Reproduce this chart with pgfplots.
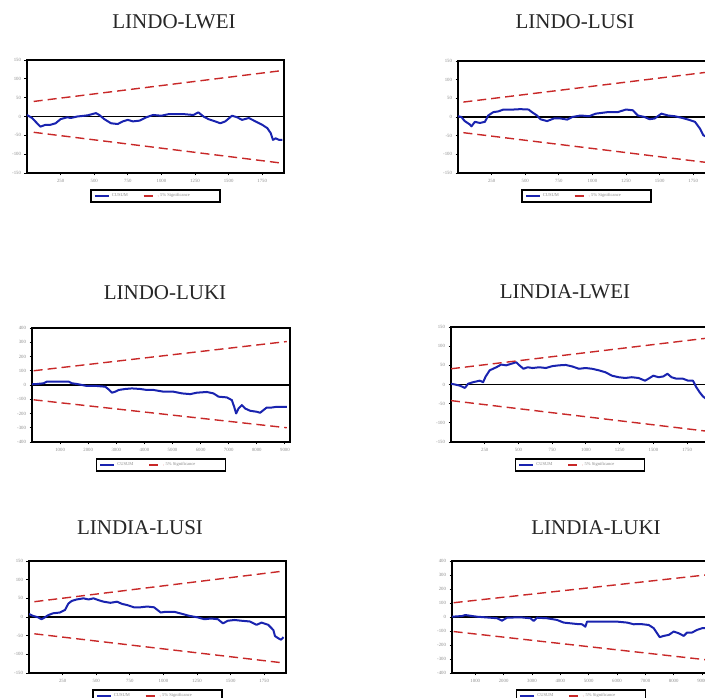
\documentclass[border=0pt]{standalone}
\usepackage{fontspec}
\setmainfont{Liberation Serif}
\usepackage{pgfplots}
\pgfplotsset{compat=1.18}

\definecolor{cusumblue}{RGB}{25,35,175}
\definecolor{bandred}{RGB}{200,40,40}
\definecolor{labelgray}{RGB}{140,140,140}

\pgfplotsset{
  cusumpanel/.style={
    scale only axis, width=257pt, height=113pt,
    anchor=north west,
    axis line style={line width=1.5pt},
    tick align=outside, tick pos=left,
    major tick length=2.5pt,
    every tick/.style={black, line width=0.9pt},
    ticklabel style={font=\fontsize{4.8}{5}\selectfont, text=labelgray},
    /pgf/number format/assume math mode=true,
    /pgf/number format/1000 sep={},
    enlargelimits=false,
    legend columns=2,
    legend style={at={(0.5,0)}, anchor=north, yshift=-16.5pt,
      draw=black, line width=1.5pt, text=labelgray,
      font=\fontsize{4.5}{5}\selectfont, inner xsep=3pt, inner ysep=1.5pt,
      /tikz/every even column/.append style={column sep=3pt}},
    legend image code/.code={\draw[#1] (0pt,0pt) -- (14pt,0pt);},
  },
  smallscale/.style={ymin=-150, ymax=150, ytick={-150,-100,...,150},
    xmin=0, xmax=1912, xtick={250,500,...,1750}},
  largescale/.style={ymin=-400, ymax=400, ytick={-400,-300,...,400},
    xtick={1000,2000,...,9000}},
  cusum/.style={cusumblue, line width=2pt, line join=round},
  band/.style={bandred, line width=1.4pt, dash pattern=on 9pt off 5pt},
  zeroline/.style={black, line width=1.3pt, forget plot},
}

\newcommand{\cusumlegend}{\legend{\makebox[26pt][l]{CUSUM},\makebox[55pt][l]{5\% Significance}}}

\begin{document}
\begin{tikzpicture}
\useasboundingbox (0,0) rectangle (705pt,697pt);
\clip (0,0) rectangle (705pt,697pt);

\tikzset{paneltitle/.style={font=\fontsize{21}{21}\selectfont, text=black!85}}
\node[paneltitle] at (174pt,675pt) {LINDO-LWEI};
\node[paneltitle] at (575pt,675pt) {LINDO-LUSI};
\node[paneltitle] at (165pt,404pt) {LINDO-LUKI};
\node[paneltitle] at (565pt,405pt) {LINDIA-LWEI};
\node[paneltitle] at (140pt,169pt) {LINDIA-LUSI};
\node[paneltitle] at (596pt,169pt) {LINDIA-LUKI};

% ---------------- LINDO-LWEI
\begin{axis}[cusumpanel, smallscale, at={(27pt,637pt)}]
\addplot[zeroline] coordinates {(0,0) (1912,0)};
\addplot[cusum] coordinates {
(0,4) (38,-4) (75,-18) (100,-27) (138,-22) (175,-22) (213,-18) (250,-7)
(300,-2) (325,-4) (375,0) (450,3) (513,9) (538,4) (575,-7) (625,-18)
(675,-20) (713,-13) (750,-9) (788,-13) (838,-11) (888,-2) (938,4) (1000,2)
(1050,6) (1175,6) (1238,4) (1275,11) (1313,0) (1350,-7) (1400,-13) (1438,-18)
(1475,-13) (1525,2) (1563,-2) (1600,-9) (1650,-4) (1700,-13) (1750,-22)
(1788,-31) (1813,-44) (1830,-62) (1850,-58) (1875,-62) (1900,-62)};
\addplot[band] coordinates {(50,40) (1900,122)};
\addplot[band, forget plot] coordinates {(50,-42) (1900,-124)};
\cusumlegend
\end{axis}

% ---------------- LINDO-LUSI
\begin{axis}[cusumpanel, smallscale, at={(458pt,636pt)}, height=112pt]
\addplot[zeroline] coordinates {(0,0) (1912,0)};
\addplot[cusum] coordinates {
(0,2) (25,0) (50,-11) (88,-20) (100,-25) (125,-13) (163,-16) (200,-13)
(225,4) (263,13) (300,15) (338,20) (413,20) (463,21) (525,20) (550,13)
(588,4) (613,-6) (663,-11) (713,-4) (763,-4) (813,-7) (850,0) (913,4)
(975,2) (1025,9) (1113,13) (1188,13) (1250,20) (1300,18) (1338,4) (1388,0)
(1425,-6) (1463,-4) (1513,9) (1563,4) (1613,2) (1663,-2) (1713,-7)
(1763,-13) (1800,-31) (1825,-49) (1850,-53) (1900,-58)};
\addplot[band] coordinates {(40,40) (1900,122)};
\addplot[band, forget plot] coordinates {(40,-42) (1900,-124)};
\cusumlegend
\end{axis}

% ---------------- LINDO-LUKI
\begin{axis}[cusumpanel, largescale, at={(32pt,369pt)}, width=258pt, height=114pt,
  xmin=0, xmax=9180]
\addplot[zeroline] coordinates {(0,0) (9180,0)};
\addplot[cusum] coordinates {
(0,5) (178,7) (415,12) (533,24) (889,24) (1304,24) (1422,12) (1600,7)
(1778,0) (1955,-7) (2311,-7) (2607,-12) (2726,-31) (2844,-54) (2963,-47)
(3081,-35) (3318,-28) (3555,-24) (3851,-28) (4088,-35) (4325,-35) (4681,-47)
(5036,-47) (5333,-59) (5629,-64) (5866,-54) (6221,-49) (6458,-59) (6636,-82)
(6932,-87) (7110,-106) (7193,-153) (7264,-200) (7347,-165) (7466,-141)
(7584,-165) (7762,-181) (8000,-188) (8117,-195) (8236,-176) (8354,-158)
(8532,-158) (8710,-153) (9065,-153)};
\addplot[band] coordinates {(60,100) (9065,305)};
\addplot[band, forget plot] coordinates {(60,-104) (9065,-300)};
\cusumlegend
\end{axis}

% ---------------- LINDIA-LWEI
\begin{axis}[cusumpanel, smallscale, at={(451pt,370pt)}, width=258pt, height=115pt]
\addplot[zeroline] coordinates {(0,0) (1912,0)};
\addplot[cusum] coordinates {
(0,2) (29,0) (66,-3) (103,-9) (127,2) (164,6) (213,10) (238,6) (257,21)
(287,37) (336,45) (372,52) (409,50) (446,54) (483,58) (507,50) (537,41)
(568,45) (605,43) (654,45) (703,43) (752,48) (801,50) (850,51) (899,47)
(948,41) (997,43) (1046,41) (1095,37) (1144,32) (1193,23) (1242,19)
(1291,17) (1340,19) (1389,17) (1438,10) (1463,15) (1499,23) (1538,19)
(1573,21) (1604,28) (1634,19) (1671,15) (1720,15) (1757,10) (1793,10)
(1818,-7) (1842,-20) (1867,-31) (1900,-40)};
\addplot[band] coordinates {(0,41) (1900,121)};
\addplot[band, forget plot] coordinates {(0,-42) (1900,-122)};
\cusumlegend
\end{axis}

% ---------------- LINDIA-LUSI
\begin{axis}[cusumpanel, smallscale, at={(29pt,136pt)}, height=112pt]
\addplot[zeroline] coordinates {(0,0) (1912,0)};
\addplot[cusum] coordinates {
(0,8) (30,3) (68,-1) (93,-6) (118,-1) (143,5) (180,10) (230,12) (268,19)
(293,36) (318,43) (355,47) (405,50) (443,47) (480,50) (518,45) (555,41)
(605,38) (655,41) (693,35) (730,32) (780,26) (830,26) (880,28) (930,26)
(955,19) (980,12) (1018,14) (1080,14) (1143,8) (1193,3) (1255,-1)
(1305,-6) (1355,-4) (1405,-6) (1443,-17) (1480,-10) (1530,-8) (1580,-10)
(1643,-12) (1693,-21) (1730,-15) (1780,-21) (1818,-35) (1830,-51)
(1855,-57) (1875,-61) (1893,-54)};
\addplot[band] coordinates {(40,41) (1893,123)};
\addplot[band, forget plot] coordinates {(40,-45) (1893,-123)};
\cusumlegend
\end{axis}

% ---------------- LINDIA-LUKI
\begin{axis}[cusumpanel, largescale, at={(452pt,136pt)}, width=258pt, height=112pt,
  xmin=180, xmax=9280]
\addplot[zeroline] coordinates {(180,0) (9280,0)};
\addplot[cusum] coordinates {
(180,2) (533,7) (650,14) (886,7) (1062,2) (1532,-5) (1768,-9) (1944,-26)
(2120,-5) (2591,-2) (2944,-9) (3061,-28) (3179,-5) (3532,-9) (3884,-21)
(4120,-40) (4355,-45) (4590,-50) (4767,-52) (4884,-69) (4943,-33)
(5414,-33) (6002,-33) (6355,-40) (6590,-52) (6825,-50) (7120,-57)
(7296,-80) (7413,-116) (7507,-144) (7648,-135) (7824,-128) (8000,-104)
(8177,-116) (8353,-135) (8471,-111) (8647,-111) (8824,-92) (9000,-80)
(9117,-80)};
\addplot[band] coordinates {(240,102) (9117,300)};
\addplot[band, forget plot] coordinates {(240,-104) (9117,-305)};
\cusumlegend
\end{axis}
\end{tikzpicture}
\end{document}
